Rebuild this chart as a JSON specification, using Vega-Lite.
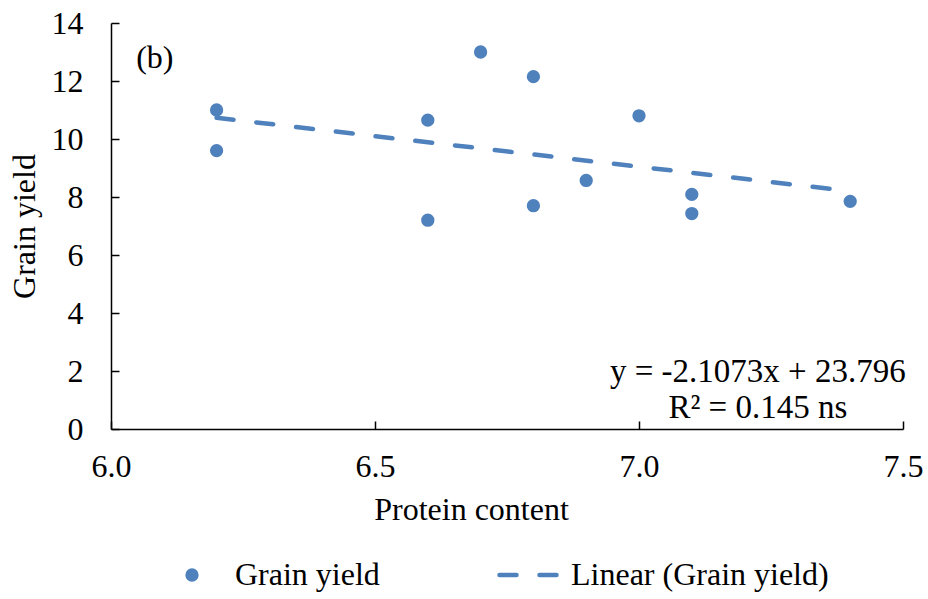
{
  "$schema": "https://vega.github.io/schema/vega-lite/v6.json",
  "width": 792,
  "height": 406,
  "autosize": {"type": "none"},
  "padding": {"left": 111, "top": 23, "right": 25, "bottom": 170},
  "config": {
    "font": "Times New Roman, Liberation Serif, serif",
    "view": {"stroke": null},
    "text": {"font": "Times New Roman, Liberation Serif, serif"},
    "axis": {
      "grid": false,
      "labelFlush": false,
      "labelOverlap": false,
      "domainColor": "black",
      "domainWidth": 1.5,
      "tickColor": "black",
      "tickWidth": 1.5,
      "tickSize": -8,
      "labelFont": "Times New Roman, Liberation Serif, serif",
      "labelFontSize": 32,
      "labelColor": "black",
      "titleFont": "Times New Roman, Liberation Serif, serif",
      "titleFontSize": 32,
      "titleFontWeight": "normal",
      "titleColor": "black"
    },
    "legend": {
      "orient": "none",
      "legendX": 65,
      "legendY": 536,
      "direction": "horizontal",
      "title": null,
      "labelFont": "Times New Roman, Liberation Serif, serif",
      "labelFontSize": 32,
      "labelColor": "black",
      "labelLimit": 500,
      "symbolSize": 3249,
      "symbolStrokeWidth": 4.5,
      "labelOffset": 27,
      "columnPadding": 110
    }
  },
  "datasets": {
    "observed": [
      {"protein": 6.2, "yield": 11.0, "series": "Grain yield"},
      {"protein": 6.2, "yield": 9.6, "series": "Grain yield"},
      {"protein": 6.6, "yield": 10.65, "series": "Grain yield"},
      {"protein": 6.6, "yield": 7.2, "series": "Grain yield"},
      {"protein": 6.7, "yield": 13.0, "series": "Grain yield"},
      {"protein": 6.8, "yield": 12.15, "series": "Grain yield"},
      {"protein": 6.8, "yield": 7.7, "series": "Grain yield"},
      {"protein": 6.9, "yield": 8.57, "series": "Grain yield"},
      {"protein": 7.0, "yield": 10.8, "series": "Grain yield"},
      {"protein": 7.1, "yield": 8.09, "series": "Grain yield"},
      {"protein": 7.1, "yield": 7.43, "series": "Grain yield"},
      {"protein": 7.4, "yield": 7.85, "series": "Grain yield"}
    ],
    "trend": [
      {"protein": 6.2, "yield": 10.731, "series": "Linear (Grain yield)"},
      {"protein": 7.4, "yield": 8.202, "series": "Linear (Grain yield)"}
    ],
    "notes": [
      {"label": "(b)"},
      {"label": "y = -2.1073x + 23.796"},
      {"label": "R² = 0.145 ns"}
    ]
  },
  "layer": [
    {
      "encoding": {
        "x": {
          "field": "protein",
          "type": "quantitative",
          "scale": {"domain": [6, 7.5], "nice": false, "zero": false},
          "axis": {
            "values": [6, 6.5, 7, 7.5], "format": ".1f", "title": "Protein content", "labelPadding": 30, "titlePadding": 12,
            "labelFlush": false,
            "titleX": 360, "titleAlign": "center",
            "labelFont": "Times New Roman, Liberation Serif, serif",
            "encode": {"labels": {"update": {"font": {"value": "Times New Roman, Liberation Serif, serif"}}}}
          }
        },
        "y": {
          "field": "yield",
          "type": "quantitative",
          "scale": {"domain": [0, 14], "nice": false},
          "axis": {
            "values": [0, 2, 4, 6, 8, 10, 12, 14], "title": "Grain yield", "labelPadding": 36, "titlePadding": 10,
            "labelFlush": false,
            "labelFont": "Times New Roman, Liberation Serif, serif",
            "encode": {"labels": {"update": {"font": {"value": "Times New Roman, Liberation Serif, serif"}}}}
          }
        },
        "color": {
          "field": "series",
          "type": "nominal",
          "scale": {"domain": ["Grain yield", "Linear (Grain yield)"], "range": ["#4F81BD", "#4F81BD"]},
          "legend": {
            "encode": {
              "symbols": {
                "update": {
                  "shape": {"signal": "datum.value === 'Linear (Grain yield)' ? 'stroke' : 'circle'"},
                  "size": {"signal": "datum.value === 'Linear (Grain yield)' ? 3249 : 177"},
                  "strokeDash": {"signal": "datum.value === 'Linear (Grain yield)' ? [17, 23] : [1, 0]"},
                  "strokeCap": {"value": "round"},
                  "stroke": {"value": "#4F81BD"},
                  "fill": {"value": "#4F81BD"},
                  "strokeWidth": {"signal": "datum.value === 'Linear (Grain yield)' ? 4.5 : 0"},
                  "opacity": {"value": 1}
                }
              }
            }
          }
        }
      },
      "layer": [
        {
          "data": {"name": "observed"},
          "mark": {"type": "point", "filled": true, "size": 177, "opacity": 1}
        },
        {
          "data": {"name": "trend"},
          "mark": {"type": "line", "strokeWidth": 4.5, "strokeDash": [17, 23], "strokeCap": "round"}
        }
      ]
    },
    {
      "data": {"name": "notes"},
      "transform": [{"filter": "datum.label === '(b)'"}],
      "mark": {"type": "text", "fontSize": 32, "align": "center", "baseline": "middle", "color": "black"},
      "encoding": {"x": {"datum": 6.083}, "y": {"datum": 12.8}, "text": {"field": "label"}}
    },
    {
      "data": {"name": "notes"},
      "transform": [{"filter": "datum.label === 'y = -2.1073x + 23.796'"}],
      "mark": {"type": "text", "fontSize": 33, "align": "center", "baseline": "middle", "color": "black"},
      "encoding": {"x": {"datum": 7.225}, "y": {"datum": 1.95}, "text": {"field": "label"}}
    },
    {
      "data": {"name": "notes"},
      "transform": [{"filter": "datum.label === 'R² = 0.145 ns'"}],
      "mark": {"type": "text", "fontSize": 33, "align": "center", "baseline": "middle", "color": "black"},
      "encoding": {"x": {"datum": 7.225}, "y": {"datum": 0.71}, "text": {"field": "label"}}
    }
  ]
}
